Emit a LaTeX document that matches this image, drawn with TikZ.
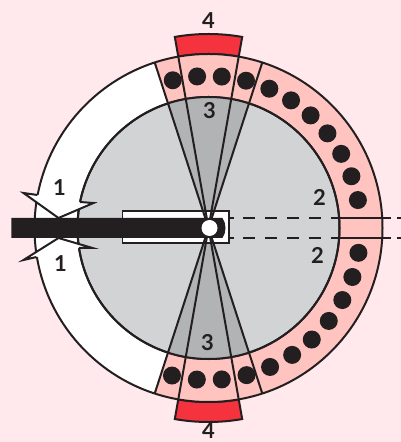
\documentclass[tikz,border=0pt]{standalone}
\usepackage{fontspec}
\setmainfont{Lato}
\usepackage{tikz}

\definecolor{backpink}{HTML}{FFE9EC}
\definecolor{ringpink}{HTML}{FFC4C0}
\definecolor{coregray}{HTML}{D1D3D4}
\definecolor{wedgegray}{HTML}{B1B3B4}
\definecolor{padred}{HTML}{F5333F}
\definecolor{rodblack}{HTML}{231F20}

\tikzset{
  outline/.style={draw=rodblack,line width=0.04cm},
  digit/.style={text=rodblack,font=\fontsize{12.5}{12.5}\selectfont\bfseries,inner sep=0pt}
}

\begin{document}
\begin{tikzpicture}[x=0.02cm,y=0.02cm]
    \useasboundingbox (-208.5,-214) rectangle (192.5,228);
    \fill[backpink] (-208.5,-214) rectangle (192.5,228);

    % red pads
    \filldraw[outline,fill=padred] (80:194) arc[start angle=80,end angle=100,radius=194] -- (100:174) arc[start angle=100,end angle=80,radius=174] -- cycle;
    \filldraw[outline,fill=padred] (-80:194) arc[start angle=-80,end angle=-100,radius=194] -- (-100:174) arc[start angle=-100,end angle=-80,radius=174] -- cycle;

    % rings and core
    \fill[white] (0,0) circle (174);
    \fill[ringpink] (108:174) arc[start angle=108,end angle=-108,radius=174] -- (-108:131) arc[start angle=-108,end angle=108,radius=131] -- cycle;
    \draw[outline] (0,0) circle (174);
    \foreach \a in {85,75.7,66.4,57.1,47.8,38.5,29.2,19.9,10.6,94.3,103.6,-9.4,-18.8,-28.3,-37.7,-47.2,-56.6,-66.1,-75.5,-85,-94.4,-103.9}
        \fill[rodblack] (\a:152) circle (9);
    \filldraw[outline,fill=coregray] (0,0) circle (131);
    \fill[wedgegray] (0,0) -- (72:131) arc[start angle=72,end angle=108,radius=131] -- cycle;
    \fill[wedgegray] (0,0) -- (-72:131) arc[start angle=-72,end angle=-108,radius=131] -- cycle;
    \draw[outline] (0,0) circle (131);

    % cracks
    \fill[white] (-171,33) -- (-185,35) -- (-150,10) -- (-150,0) -- (-150,-10) -- (-185,-32) -- (-172,-29) -- (-129.5,-20) -- (-116,-20) -- (-150,-10) -- (-150,10) -- (-115,25) -- (-128.5,26) -- cycle;
    \draw[outline] (-171,33) -- (-185,35) -- (-150,10) -- (-115,25) -- (-128.5,26);
    \draw[outline] (-172,-29) -- (-185,-32) -- (-150,-10) -- (-116,-20) -- (-129.5,-20);

    % beam lines
    \draw[outline,dash pattern=on 0.24cm off 0.2cm] (13,10) -- (193,10);
    \draw[outline,dash pattern=on 0.24cm off 0.2cm] (13,-10) -- (193,-10);
    \draw[outline] (132,10) -- (182,10);
    \draw[outline] (132,-10) -- (182,-10);

    % holder
    \filldraw[outline,fill=white] (-86,17) rectangle (20,-15);
    \foreach \a in {72,80,100,108,-72,-80,-100,-108}
        \draw[outline] (0,0) -- (\a:174);
    \fill[rodblack] (-197,10) -- (14,10) .. controls (18,4) and (18,-4) .. (14,-10) -- (-197,-10) -- cycle;
    \fill[white] (1,0) circle (8);

    % labels
    \node[digit] (top4) at (0,207) {4};
    \node[digit] (bot4) at (0,-203) {4};
    \node[digit] (top3) at (1,117) {3};
    \node[digit] (bot3) at (-1,-115) {3};
    \node[digit] (up2) at (111,31) {2};
    \node[digit] (low2) at (109,-27) {2};
    \node[digit] (up1) at (-149,40) {1};
    \node[digit] (low1) at (-148,-36) {1};
\end{tikzpicture}
\end{document}
